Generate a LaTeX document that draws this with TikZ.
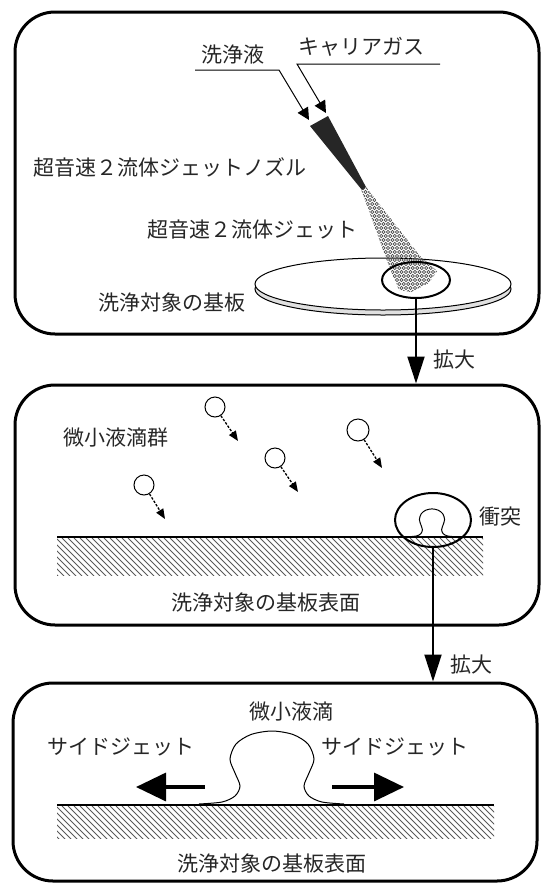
\documentclass[tikz,border=0pt]{standalone}
\usepackage{fontspec}
\setmainfont{Noto Sans CJK JP}
\usetikzlibrary{arrows.meta,shapes.geometric}

\begin{document}
\begin{tikzpicture}[x=1pt,y=-1pt,
  panel/.style={draw, line width=3pt, rounded corners=40pt, inner sep=0pt},
  lbl/.style={font=\fontsize{21}{24}\selectfont, text=black!85, inner sep=0pt},
  zoomring/.style={draw, ellipse, line width=2pt, inner sep=0pt},
  zoomarrow/.style={line width=2pt, -{Triangle[length=27pt,width=17pt]}},
  feedline/.style={line width=1pt, -{Triangle[length=12pt,width=12pt]}},
  fallarrow/.style={line width=1.3pt, dash pattern=on 2.5pt off 1.5pt, -{Triangle[length=10pt,width=8pt]}},
  sidearrow/.style={line width=3.5pt, -{Triangle[length=30pt,width=28pt]}},
  drop/.style={draw, circle, line width=1pt, inner sep=0pt, minimum size=20pt},
  hatchline/.style={black!65, line width=0.9pt},
  surface/.style={line width=1.8pt},
  splash/.pic={
    \draw[line width=1pt] plot[smooth] coordinates
      {(-73,-1) (-50,-3) (-37,-9) (-32,-19) (-37,-32) (-42,-46) (-36,-61)
       (-21,-70.5) (0,-74) (21,-70.5) (36,-61) (42,-46) (37,-32) (32,-19)
       (37,-9) (50,-3) (72,-1)};
  },
]
\useasboundingbox (0,0) rectangle (545,884);

% ---------- panel 1: nozzle and substrate ----------
\node[panel, minimum width=524pt, minimum height=322pt] (p1) at (277,173) {};

% substrate disc with its rim
\node[draw, ellipse, line width=1pt, fill=black!12, inner sep=0pt,
      minimum width=256pt, minimum height=52pt] (rim) at (383,289) {};
\node[draw, ellipse, line width=1pt, fill=white, inner sep=0pt,
      minimum width=256pt, minimum height=52pt] (wafer) at (383,284) {};

% spray cone made of fine droplets
\begin{scope}
  \clip (361,189) -- (366,187) -- (420,256) -- (437,271) -- (429,283)
        -- (411,292) -- (399,290) -- (393,276) -- (386,258) -- cycle;
  \foreach \i in {0,...,22}
    \foreach \j in {0,...,28}
      \draw[black!70, line width=0.6pt]
        ({352+4.5*\i+2.25*mod(\j,2)}, {184+4*\j}) circle (1.6pt);
\end{scope}

\node[zoomring, minimum width=68pt, minimum height=36pt] (zA) at (416,280) {};

% nozzle body
\fill[black!85] (310,126) -- (328,116) -- (366,187) -- (362,190) -- cycle;

% feed lines into the nozzle
\coordinate (liqA) at (195,70);
\coordinate (liqB) at (279,70);
\coordinate (liqTip) at (309,120);
\draw[feedline] (liqA) -- (liqB) -- (liqTip);
\coordinate (gasA) at (440,64);
\coordinate (gasB) at (297,64);
\coordinate (gasTip) at (326,113);
\draw[feedline] (gasA) -- (gasB) -- (gasTip);

\node[lbl] (tLiquid) at (233,55) {洗浄液};
\node[lbl] (tGas) at (361,47) {キャリアガス};
\node[lbl] (tNozzle) at (170,167) {超音速２流体ジェットノズル};
\node[lbl] (tJet) at (252,230) {超音速２流体ジェット};
\node[lbl] (tWafer) at (172,303) {洗浄対象の基板};

% ---------- panel 2: droplets hitting the surface ----------
\node[panel, minimum width=524pt, minimum height=240pt] (p2) at (277,505) {};

\draw[zoomarrow] (zA.south) -- (zA.south |- p2.north);
\node[lbl] (tZoomA) at (454,360) {拡大};

\begin{scope}
  \clip (57,538) rectangle (483,575);
  \foreach \k in {0,...,80}
    \draw[hatchline] ({20+6*\k},538) -- ++(38,38);
\end{scope}
\draw[surface] (57,537) -- (483,537);

\node[drop] (d1) at (215,407) {};
\coordinate (e1) at (238,441);
\draw[fallarrow] (d1) -- (e1);
\node[drop, minimum size=22pt] (d2) at (358,430) {};
\coordinate (e2) at (382,468);
\draw[fallarrow] (d2) -- (e2);
\node[drop] (d3) at (275,458) {};
\coordinate (e3) at (298,492);
\draw[fallarrow] (d3) -- (e3);
\node[drop] (d4) at (144,485) {};
\coordinate (e4) at (165,519);
\draw[fallarrow] (d4) -- (e4);

\pic[xscale=0.3, yscale=0.38] at (432,537) {splash};
\node[zoomring, minimum width=76pt, minimum height=54pt] (zB) at (433,520) {};

\node[lbl] (tGroup) at (116,438) {微小液滴群};
\node[lbl] (tHit) at (500,517) {衝突};
\node[lbl] (tSurfA) at (266,603) {洗浄対象の基板表面};

% ---------- panel 3: side jets ----------
\node[panel, minimum width=524pt, minimum height=198pt] (p3) at (275,782) {};

\draw[zoomarrow] (zB.south) -- (zB.south |- p3.north);
\node[lbl] (tZoomB) at (471,665) {拡大};

\begin{scope}
  \clip (57,806) rectangle (494,838);
  \foreach \k in {0,...,82}
    \draw[hatchline] ({20+6*\k},806) -- ++(34,34);
\end{scope}
\draw[surface] (57,805) -- (494,805);

\pic at (272,805) {splash};

\coordinate (sl0) at (205,787);
\coordinate (sl1) at (136,787);
\draw[sidearrow] (sl0) -- (sl1);
\coordinate (sr0) at (332,787);
\coordinate (sr1) at (404,787);
\draw[sidearrow] (sr0) -- (sr1);

\node[lbl] (tDrop) at (291,712) {微小液滴};
\node[lbl] (tSideL) at (121,747) {サイドジェット};
\node[lbl] (tSideR) at (395,747) {サイドジェット};
\node[lbl] (tSurfB) at (272,863) {洗浄対象の基板表面};
\end{tikzpicture}
\end{document}
